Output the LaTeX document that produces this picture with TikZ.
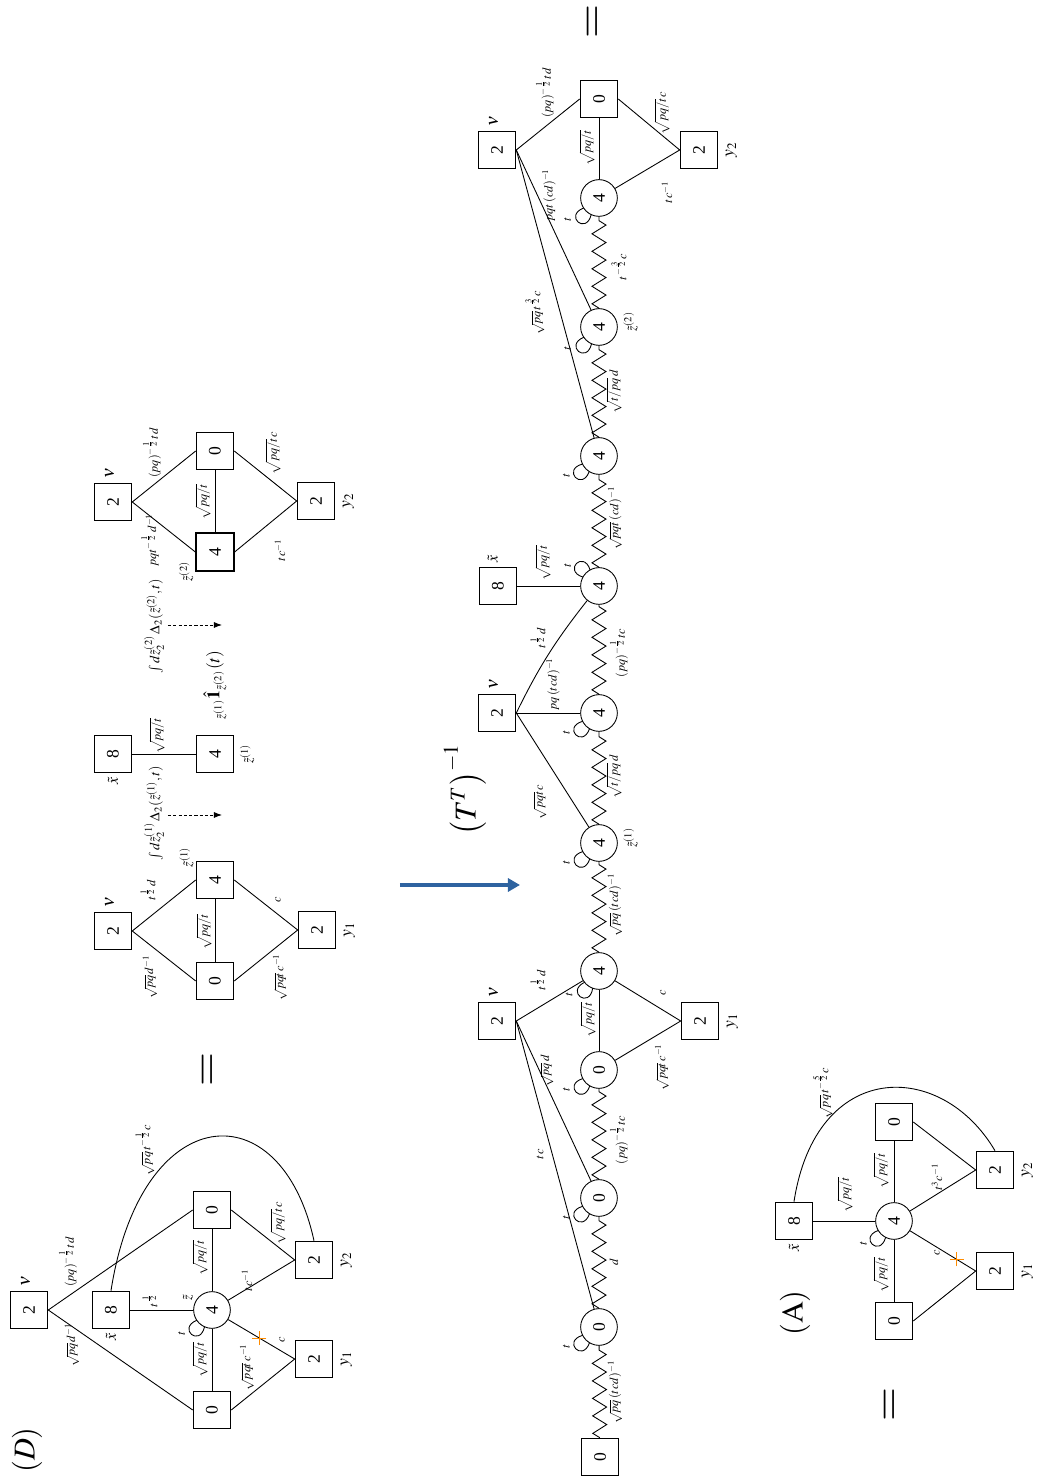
\documentclass[tikz,border=0pt]{standalone}
\usepackage{mathptmx}
\usepackage{fontspec}
\setmainfont{Liberation Serif}
\usetikzlibrary{positioning,calc,arrows.meta,decorations.pathmorphing}
\definecolor{flowblue}{RGB}{46,99,160}
\definecolor{cutorange}{RGB}{255,140,0}
% self-loop with its t label: node, loop angle, label angle
\newcommand{\tloop}[3]{%
  \draw ($(#1)+(#2-16:3.67mm)$) .. controls ($(#1)+(#2-22:7.9mm)$) and ($(#1)+(#2+22:7.9mm)$) .. ($(#1)+(#2+16:3.67mm)$);
  \node[lab] (#1t) at ($(#1)+(#3:7.6mm)$) {$t$};}
\begin{document}
\begin{tikzpicture}[
    x=0.2mm, y=0.2mm, rotate=90, transform shape,
    line width=0.5pt,
    box/.style={draw, minimum size=7.54mm, inner sep=0pt},
    thickbox/.style={box, line width=0.9pt},
    circ/.style={draw, circle, minimum size=7.34mm, inner sep=0pt},
    lab/.style={font=\scriptsize, inner sep=1pt},
    tag/.style={inner sep=1pt},
    zig/.style={decorate, decoration={zigzag, amplitude=1.4mm, segment length=3.5mm}},
    dflow/.style={-{Latex[length=1.6mm, width=1.2mm]}, dash pattern=on 1.8pt off 1.2pt},
    bigflow/.style={-{Triangle[length=2.4mm, width=2.6mm]}, line width=2.8pt, draw=flowblue},
    cut/.style={draw=cutorange, line width=0.6pt},
    eqs/.style={font=\Huge},
]
\useasboundingbox (0,0) rectangle (1484,1041);

% ---- panel (D)
\node[font=\LARGE] (labD) at (34,1014) {$\left(D\right)$};
\node[box] (nuD) at (174,1012) {2};
\node[box] (xD) at (174,930) {8};
\node[circ] (zD) at (174,829) {4};
\node[box] (aD) at (74,829) {0};
\node[box] (bD) at (274,829) {0};
\node[box] (y1D) at (125,727) {2};
\node[box] (y2D) at (224,727) {2};
\node[tag, right=1pt of nuD, yshift=2pt] (nuDt) {$\nu$};
\node[tag, font=\small, left=1pt of xD] (xDt) {$\tilde x$};
\node[tag, below=3pt of y1D] (y1Dt) {$y_1$};
\node[tag, below=3pt of y2D] (y2Dt) {$y_2$};
\node[tag, font=\footnotesize] (zDt) at (186,853) {$\tilde z$};
\draw (nuD.south) -- (aD.north) node[lab] at (139,969) {$\sqrt{pq}\,d^{-1}$};
\draw (nuD.south) -- (bD.north) node[lab] at (222,973) {$(pq)^{-\frac12}td$};
\draw (xD.south) -- (zD) node[lab] at (184,891) {$t^{\frac12}$};
\draw (aD.east) -- (zD) node[lab] at (124,841) {$\sqrt{pq/t}$};
\draw (zD) -- (bD.west) node[lab] at (226,841) {$\sqrt{pq/t}$};
\draw (zD) -- coordinate[pos=0.47] (cutD) (y1D.north) node[lab] at (144,759) {$c$};
\draw (zD) -- (y2D.north) node[lab] at (204,794) {$tc^{-1}$};
\draw (aD.south) -- (y1D.north) node[lab] at (117,794) {$\sqrt{pqt}\,c^{-1}$};
\draw (bD.south) -- (y2D.north) node[lab] at (261,763) {$\sqrt{pq/t}\,c$};
\draw (xD.east) .. controls (385,900) and (395,760) .. (y2D.east) node[lab] at (334,896) {$\sqrt{pq}\,t^{-\frac12}c$};
\tloop{zD}{140}{127}
\draw[cut] (cutD) +(-7,0) -- +(7,0) +(0,-7) -- +(0,7);

\node[eqs] (eq1) at (414,831) {$=$};

% ---- first diamond
\node[box] (nuP) at (553,928) {2};
\node[box] (zP) at (604,826) {4};
\node[box] (aP) at (503,826) {0};
\node[box] (yP) at (554,724) {2};
\node[tag, right=1pt of nuP, yshift=2pt] (nuPt) {$\nu$};
\node[tag, below=3pt of yP] (yPt) {$y_1$};
\node[tag, font=\footnotesize, above=0pt of zP.north east, xshift=2pt] (zPt) {$\tilde z^{(1)}$};
\draw (nuP.south) -- (zP.north) node[lab] at (594,893) {$t^{\frac12}d$};
\draw (nuP.south) -- (aP.north) node[lab] at (507,891) {$\sqrt{pq}\,d^{-1}$};
\draw (aP.east) -- (zP.west) node[lab] at (552,837) {$\sqrt{pq/t}$};
\draw (zP.south) -- (yP.north) node[lab] at (584,763) {$c$};
\draw (aP.south) -- (yP.north) node[lab] at (507,761) {$\sqrt{pqt}\,c^{-1}$};

\node[lab, font=\footnotesize] (int1) at (671,887) {$\int d\tilde z_2^{(1)}\,\Delta_2(\tilde z^{(1)},t)$};
\coordinate (d1a) at (669,873);
\coordinate (d1b) at (669,819);
\draw[dflow] (d1a) -- (d1b);

% ---- middle pair
\node[box] (xQ) at (730,928) {8};
\node[box] (zQ) at (730,826) {4};
\node[tag, font=\small, left=1pt of xQ] (xQt) {$\tilde x$};
\node[tag, font=\footnotesize, below=2pt of zQ] (zQt) {$\tilde z^{(1)}$};
\draw (xQ.south) -- (zQ.north) node[lab] at (748,884) {$\sqrt{pq/t}$};
\node (projI) at (799,826) {${}_{\tilde z^{(1)}}\hat{\mathbf 1}_{\tilde z^{(2)}}(t)$};

\node[lab, font=\footnotesize] (int2) at (858,887) {$\int d\tilde z_2^{(2)}\,\Delta_2(\tilde z^{(2)},t)$};
\coordinate (d2a) at (859,873);
\coordinate (d2b) at (859,819);
\draw[dflow] (d2a) -- (d2b);

% ---- second diamond
\node[box] (nuS) at (982,928) {2};
\node[thickbox] (zS) at (932,826) {4};
\node[box] (aS) at (1033,826) {0};
\node[box] (yS) at (983,725) {2};
\node[tag, right=1pt of nuS, yshift=2pt] (nuSt) {$\nu$};
\node[tag, below=3pt of yS] (ySt) {$y_2$};
\node[tag, font=\footnotesize, above=0pt of zS.north west] (zSt) {$\tilde z^{(2)}$};
\draw (nuS.south) -- (zS.north) node[lab] at (944,891) {$pqt^{-\frac12}d^{-1}$};
\draw (nuS.south) -- (aS.north) node[lab] at (1031,889) {$(pq)^{-\frac12}td$};
\draw (zS.east) -- (aS.west) node[lab] at (982,838) {$\sqrt{pq/t}$};
\draw (zS.south) -- (yS.north) node[lab] at (934,761) {$tc^{-1}$};
\draw (aS.south) -- (yS.north) node[lab] at (1031,768) {$\sqrt{pq/t}\,c$};

% ---- transform arrow
\coordinate (bfrom) at (599,641);
\coordinate (bto) at (599,521);
\draw[bigflow] (bfrom) -- (bto);
\node[font=\LARGE] (TT) at (694,576) {$\left(T^{T}\right)^{-1}$};

% ---- chain
\node[box] (b0L) at (27,441) {0};
\foreach \n/\x/\v in {c1/157/0, c2/286/0, c3/414/0, c4/513/4, c5/641/4, c6/771/4, c7/898/4, c8/1028/4, c9/1157/4, c10/1286/4}
  \node[circ] (\n) at (\x,442) {\v};
\node[box] (b0R) at (1385,442) {0};
\node[box] (nuL) at (463,544) {2};
\node[box] (yL) at (463,341) {2};
\node[box] (nuM) at (771,544) {2};
\node[box] (x8) at (898,543) {8};
\node[box] (nuR) at (1334,544) {2};
\node[box] (y2R) at (1334,342) {2};
\node[tag, right=1pt of nuL, yshift=2pt] (nuLt) {$\nu$};
\node[tag, right=1pt of nuM, yshift=2pt] (nuMt) {$\nu$};
\node[tag, right=1pt of nuR, yshift=2pt] (nuRt) {$\nu$};
\node[tag, font=\small, right=1pt of x8, yshift=3pt] (x8t) {$\tilde x$};
\node[tag, below=3pt of yL] (yLt) {$y_1$};
\node[tag, below=3pt of y2R] (y2Rt) {$y_2$};
\node[tag, font=\footnotesize, below=2pt of c5, xshift=3pt] (c5z) {$\tilde z^{(1)}$};
\node[tag, font=\footnotesize, below=2pt of c9, xshift=3pt] (c9z) {$\tilde z^{(2)}$};

\draw[zig] (b0L) -- (c1) node[lab] at (92,426) {$\sqrt{pq}\,(tcd)^{-1}$};
\draw[zig] (c1) -- (c2) node[lab] at (222,427) {$d$};
\draw[zig] (c2) -- (c3) node[lab] at (344,422) {$(pq)^{-\frac12}tc$};
\draw[zig] (c4) -- (c5) node[lab] at (579,426) {$\sqrt{pq}\,(tcd)^{-1}$};
\draw[zig] (c5) -- (c6) node[lab] at (707,427) {$\sqrt{t/pq}\,d$};
\draw[zig] (c6) -- (c7) node[lab] at (831,422) {$(pq)^{-\frac12}tc$};
\draw[zig] (c7) -- (c8) node[lab] at (966,426) {$\sqrt{pqt}\,(cd)^{-1}$};
\draw[zig] (c8) -- (c9) node[lab] at (1092,427) {$\sqrt{t/pq}\,d$};
\draw[zig] (c9) -- (c10) node[lab] at (1217,422) {$t^{-\frac32}c$};

\draw (nuL.south) -- (c1) node[lab] at (330,501) {$tc$};
\draw (nuL.south) -- (c2) node[lab] at (413,494) {$\sqrt{pq}\,d$};
\draw (nuL.south) -- (c4) node[lab] at (504,503) {$t^{\frac12}d$};
\draw (c3) -- (c4) node[lab] at (464,453) {$\sqrt{pq/t}$};
\draw (c3) -- (yL.north) node[lab] at (417,379) {$\sqrt{pqt}\,c^{-1}$};
\draw (c4) -- (yL.north) node[lab] at (491,378) {$c$};

\draw (nuM.south) -- (c5) node[lab] at (682,501) {$\sqrt{pqt}\,c$};
\draw (nuM.south) -- (c6) node[lab] at (800,488) {$pq\,(tcd)^{-1}$};
\draw (nuM.south) to[bend left=6] (c7) node[lab] at (846,503) {$t^{\frac12}d$};
\draw (x8.south) -- (c7) node[lab] at (921,498) {$\sqrt{pq/t}$};

\draw (nuR.south) -- (c8) node[lab] at (1171,506) {$\sqrt{pq}\,t^{\frac32}c$};
\draw (nuR.south) -- (c9) node[lab] at (1289,492) {$pqt\,(cd)^{-1}$};
\draw (nuR.south) -- (b0R.north) node[lab] at (1391,496) {$(pq)^{-\frac12}td$};
\draw (c10) -- (b0R.west) node[lab] at (1336,454) {$\sqrt{pq/t}$};
\draw (c10) -- (y2R.north) node[lab] at (1292,374) {$tc^{-1}$};
\draw (b0R.south) -- (y2R.north) node[lab] at (1371,379) {$\sqrt{pq/t}\,c$};

\tloop{c1}{133}{121}
\tloop{c2}{133}{121}
\tloop{c3}{134}{121}
\tloop{c4}{144}{128}
\tloop{c5}{134}{121}
\tloop{c6}{133}{121}
\tloop{c7}{45}{56}
\tloop{c8}{132}{121}
\tloop{c9}{140}{124}
\tloop{c10}{139}{124}

\node[eqs] (eq2) at (1462,446) {$=$};

% ---- panel (A)
\node[eqs] (eq3) at (79,149) {$=$};
\node[font=\LARGE] (labA) at (171,246) {$\left(\mathrm{A}\right)$};
\node[box] (x8A) at (263,247) {8};
\node[circ] (zA) at (263,147) {4};
\node[box] (aA) at (163,147) {0};
\node[box] (bA) at (362,147) {0};
\node[box] (y1A) at (213,46) {2};
\node[box] (y2A) at (314,46) {2};
\node[tag, font=\small, left=1pt of x8A] (x8At) {$\tilde x$};
\node[tag, below=3pt of y1A] (y1At) {$y_1$};
\node[tag, below=3pt of y2A] (y2At) {$y_2$};
\draw (x8A.south) -- (zA) node[lab] at (289,196) {$\sqrt{pq/t}$};
\draw (zA) -- (bA.west) node[lab] at (313,160) {$\sqrt{pq/t}$};
\draw (aA.east) -- (zA) node[lab] at (209,160) {$\sqrt{pq/t}$};
\draw (zA) -- (y2A.north) node[lab] at (307,104) {$t^{3}c^{-1}$};
\draw (zA) -- coordinate[pos=0.71] (cutA) (y1A.north) node[lab] at (231,104) {$c$};
\draw (bA.south) -- (y2A.north);
\draw (aA.south) -- (y1A.north);
\draw (x8A.east) .. controls (425,225) and (425,100) .. (y2A.east) node[lab] at (391,218) {$\sqrt{pq}\,t^{-\frac52}c$};
\tloop{zA}{137}{126}
\draw[cut] (cutA) +(-7,0) -- +(7,0) +(0,-7) -- +(0,7);
\end{tikzpicture}
\end{document}
